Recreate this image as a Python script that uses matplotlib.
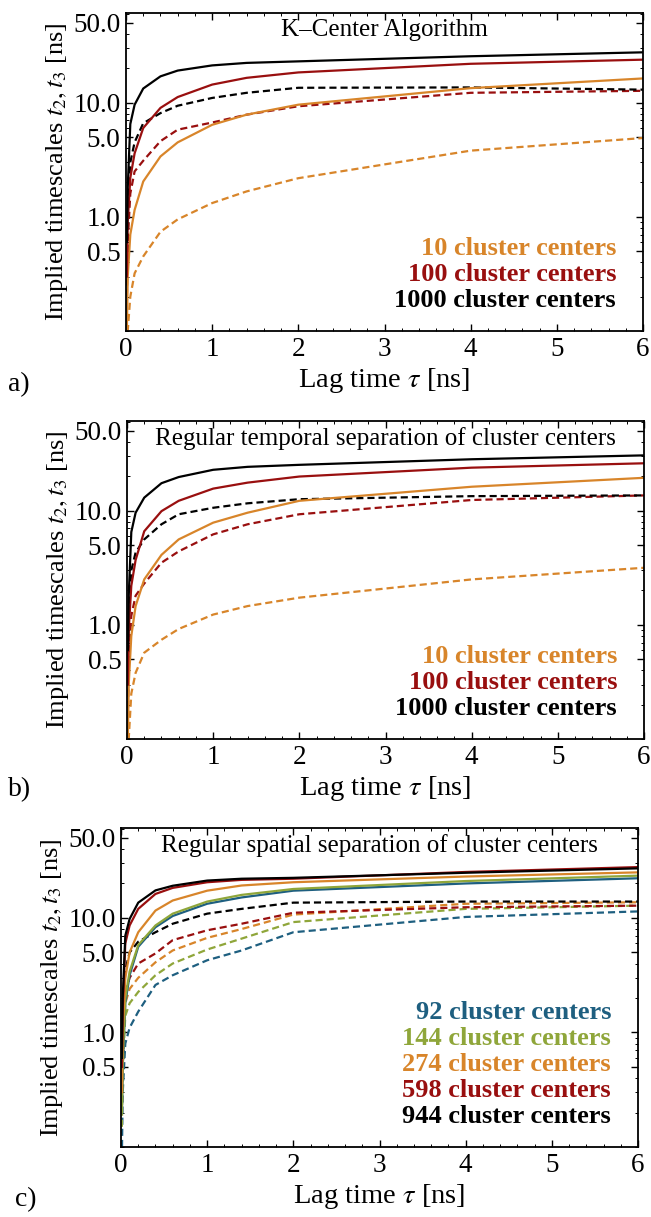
import matplotlib
matplotlib.use("Agg")
import matplotlib.pyplot as plt
from matplotlib.ticker import FixedLocator, FixedFormatter, MultipleLocator, NullFormatter
import numpy as np

plt.rcParams['font.family'] = ['Liberation Serif', 'DejaVu Serif']
plt.rcParams['mathtext.fontset'] = 'stix'

# ---------------- data ----------------
lag = [0.01, 0.02, 0.05, 0.1, 0.2, 0.4, 0.6, 1.0, 1.4, 2.0, 4.0, 6.0]

# panel a: K-Center algorithm
a_t2_10 = [0.1, 0.3, 0.7, 1.15, 2.04, 3.38, 4.49, 6.4, 7.85, 9.6, 13.4, 16.3]
a_t3_10 = [0.05, 0.1, 0.2, 0.32, 0.45, 0.74, 0.95, 1.32, 1.67, 2.18, 3.8, 4.9]
a_t2_100 = [0.3, 0.9, 2.2, 3.6, 6.0, 9.0, 11.2, 14.4, 16.5, 18.4, 21.9, 23.8]
a_t3_100 = [0.2, 0.6, 1.6, 2.5, 3.1, 4.6, 5.8, 6.7, 7.85, 9.3, 12.2, 12.7]
a_t2_1000 = [0.6, 1.8, 6.5, 9.6, 13.3, 17.0, 19.1, 21.2, 22.3, 23.0, 25.5, 27.6]
a_t3_1000 = [0.4, 1.2, 3.0, 4.5, 6.6, 8.1, 9.4, 11.0, 12.2, 13.5, 13.6, 13.0]

# panel b: regular temporal separation
b_t2_10 = [0.1, 0.3, 0.8, 1.46, 2.5, 4.1, 5.6, 7.85, 9.6, 12.2, 16.2, 19.4]
b_t3_10 = [0.05, 0.1, 0.25, 0.38, 0.57, 0.74, 0.92, 1.23, 1.46, 1.73, 2.5, 3.16]
b_t2_100 = [0.3, 0.9, 2.2, 3.7, 6.6, 9.9, 12.2, 15.6, 17.6, 19.9, 23.8, 26.0]
b_t3_100 = [0.15, 0.5, 1.2, 1.8, 2.3, 3.5, 4.4, 6.2, 7.6, 9.3, 12.4, 13.6]
b_t2_1000 = [0.6, 1.8, 6.5, 9.6, 13.0, 17.4, 19.7, 22.8, 24.2, 25.2, 28.2, 30.5]
b_t3_1000 = [0.4, 1.2, 3.0, 4.3, 5.6, 7.6, 9.3, 10.6, 11.6, 12.6, 13.4, 13.6]

# panel c: regular spatial separation
c_t2_92 = [0.2, 0.5, 1.8, 3.16, 5.6, 8.3, 10.4, 13.3, 15.1, 17.3, 20.0, 22.2]
c_t3_92 = [0.08, 0.3, 0.8, 1.1, 1.52, 2.6, 3.16, 4.27, 5.2, 7.5, 10.2, 11.4]
c_t2_144 = [0.2, 0.6, 2.0, 3.4, 5.8, 8.6, 10.9, 13.9, 15.9, 17.9, 21.0, 23.4]
c_t3_144 = [0.15, 0.5, 1.4, 1.8, 2.26, 3.16, 4.0, 5.3, 6.6, 9.2, 12.0, 12.8]
c_t2_274 = [0.3, 1.0, 3.0, 5.0, 7.5, 11.6, 14.2, 17.3, 19.2, 20.5, 23.0, 25.0]
c_t3_274 = [0.2, 0.7, 1.8, 2.4, 3.0, 4.1, 5.2, 6.7, 8.0, 10.7, 13.3, 13.7]
c_t2_598 = [0.5, 1.6, 6.0, 8.6, 12.0, 16.2, 18.3, 20.5, 21.5, 22.0, 25.2, 27.8]
c_t3_598 = [0.3, 0.9, 2.2, 3.0, 4.0, 4.9, 6.4, 7.8, 8.9, 11.1, 12.4, 12.8]
c_t2_944 = [0.6, 2.0, 7.0, 9.8, 13.6, 17.4, 19.1, 21.2, 22.0, 22.4, 24.8, 27.1]
c_t3_944 = [0.4, 1.2, 3.5, 5.0, 6.2, 7.5, 8.9, 10.9, 12.0, 13.6, 13.9, 13.9]

titles = ["K\u2013Center Algorithm",
          "Regular temporal separation of cluster centers",
          "Regular spatial separation of cluster centers"]
panel_letters = ["a)", "b)", "c)"]
ytick_vals = [0.5, 1.0, 5.0, 10.0, 50.0]
ytick_labels = ["0.5", "1.0", "5.0", "10.0", "50.0"]
xtick_vals = [0, 1, 2, 3, 4, 5, 6]

ORANGE = "#D8852A"
RED = "#990F0F"
BLACK = "#000000"
GREEN = "#8FA63A"
BLUE = "#1E5F80"

panels = [
    dict(series=[(a_t2_10, a_t3_10, ORANGE, "10 cluster centers"),
                 (a_t2_100, a_t3_100, RED, "100 cluster centers"),
                 (a_t2_1000, a_t3_1000, BLACK, "1000 cluster centers")],
         rect=[126/651, 1-331/1217, 517/651, 318/1217]),
    dict(series=[(b_t2_10, b_t3_10, ORANGE, "10 cluster centers"),
                 (b_t2_100, b_t3_100, RED, "100 cluster centers"),
                 (b_t2_1000, b_t3_1000, BLACK, "1000 cluster centers")],
         rect=[127/651, 1-739/1217, 517/651, 318/1217]),
    dict(series=[(c_t2_92, c_t3_92, BLUE, "92 cluster centers"),
                 (c_t2_144, c_t3_144, GREEN, "144 cluster centers"),
                 (c_t2_274, c_t3_274, ORANGE, "274 cluster centers"),
                 (c_t2_598, c_t3_598, RED, "598 cluster centers"),
                 (c_t2_944, c_t3_944, BLACK, "944 cluster centers")],
         rect=[121/651, 1-1147/1217, 517/651, 319/1217]),
]

fig = plt.figure(figsize=(6.51, 12.17), dpi=100)

for i, p in enumerate(panels):
    ax = fig.add_axes(p["rect"])
    for t2, t3, col, lab in p["series"]:
        ax.plot(lag, t3, color=col, lw=1.6, ls=(0, (3.2, 1.8)), solid_capstyle='butt')
    for t2, t3, col, lab in p["series"]:
        ax.plot(lag, t2, color=col, lw=1.6)
    ax.set_yscale('log')
    ax.set_xlim(0, 6)
    ax.set_ylim(0.1, 61)
    ax.yaxis.set_major_locator(FixedLocator(ytick_vals))
    ax.yaxis.set_major_formatter(FixedFormatter(ytick_labels))
    minor = [v * 10.0**e for e in range(-1, 2) for v in range(1, 10)]
    minor = [m for m in minor if m not in ytick_vals]
    ax.yaxis.set_minor_locator(FixedLocator(minor))
    ax.yaxis.set_minor_formatter(NullFormatter())
    ax.xaxis.set_major_locator(FixedLocator(xtick_vals))
    ax.xaxis.set_minor_locator(MultipleLocator(0.2))
    ax.tick_params(which='both', direction='in', top=True, right=True, labelsize=19.5, pad=4)
    ax.tick_params(which='major', length=5, width=1)
    ax.tick_params(which='minor', length=2.5, width=0.7)
    for s in ax.spines.values():
        s.set_linewidth(1.3)
    ax.set_xlabel(r"Lag time $\tau$ [ns]", fontsize=20.5, labelpad=3)
    ax.set_ylabel(r"Implied timescales $t_2,t_3$ [ns]", fontsize=19, labelpad=2)
    ax.text(0.5, 0.945, titles[i], transform=ax.transAxes, ha='center', va='center', fontsize=18)
    n = len(p["series"])
    ys = [0.097 + 0.081 * k for k in range(n)][::-1]
    for (t2, t3, col, lab), yy in zip(p["series"], ys):
        ax.text(0.948, yy, lab, transform=ax.transAxes, ha='right', va='center',
                fontsize=19, fontweight='bold', color=col)

fig.text(8/651, 1-385/1217, "a)", fontsize=20, va='center', ha='left')
fig.text(8/651, 1-790/1217, "b)", fontsize=20, va='center', ha='left')
fig.text(15/651, 1-1200/1217, "c)", fontsize=20, va='center', ha='left')

fig.savefig("out.png", dpi=100)
